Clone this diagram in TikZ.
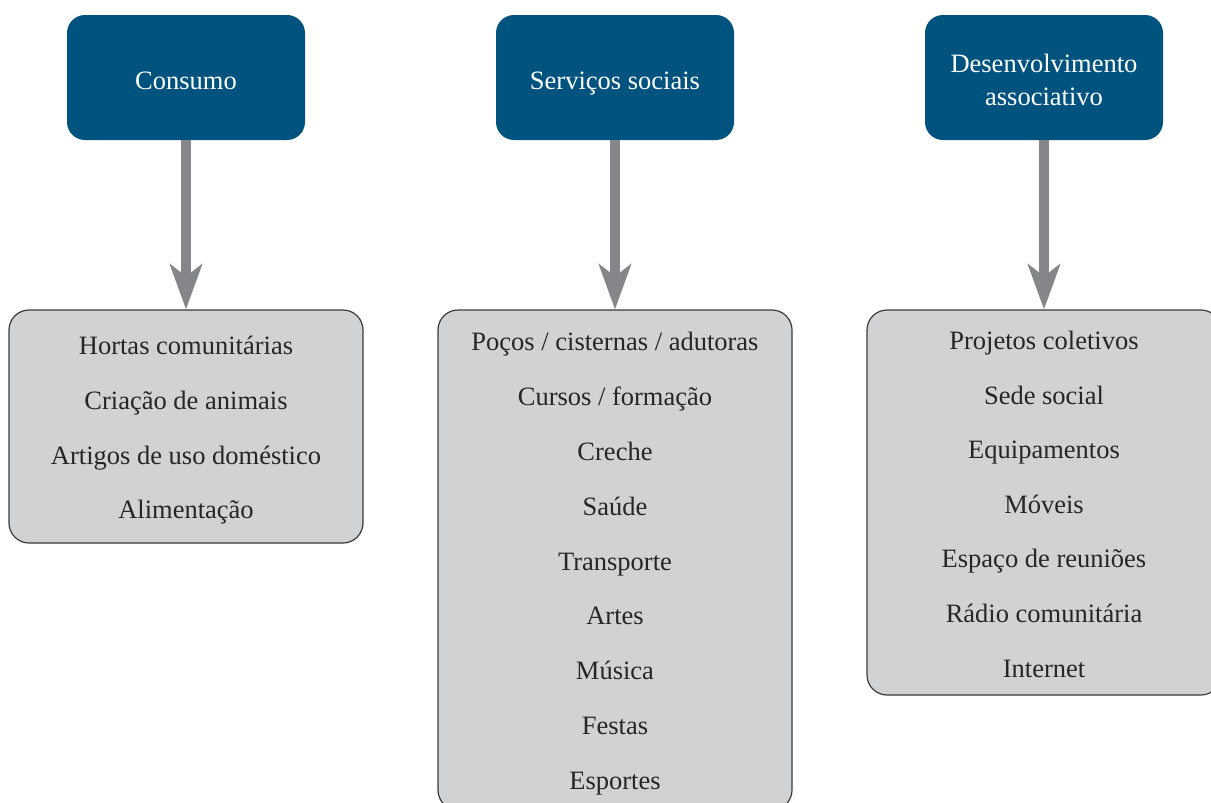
\documentclass[tikz,border=0pt]{standalone}
\usepackage{fontspec}
\setmainfont{Liberation Serif}
\usetikzlibrary{arrows.meta}
\definecolor{topblue}{HTML}{00527F}
\definecolor{boxgray}{HTML}{D1D2D4}
\definecolor{boxline}{HTML}{3A3A3A}
\definecolor{arrgray}{HTML}{85868A}
\newcommand\fs{\rule[-0.5pt]{0pt}{26.5pt}}
\newcommand\fsb{\rule[-0.5pt]{0pt}{22.5pt}}
\newcommand\fsth{\rule{0pt}{29pt}}
\newcommand\fstd{\rule[-6pt]{0pt}{0pt}}
\tikzset{
  topbox/.style={fill=topblue, text=white, rounded corners=18pt, minimum width=238pt, minimum height=125pt, inner sep=0pt, align=center, font=\fontsize{26.5}{33}\selectfont},
  listbox/.style={fill=boxgray, draw=boxline, line width=1.2pt, rounded corners=20pt, minimum width=354pt, inner sep=0pt, align=center, text=black!85, font=\fontsize{26.5}{54.8}\selectfont},
  bigarrow/.style={draw=arrgray, line width=10pt, -{Stealth[length=45pt,width=32pt,inset=12pt]}, fill=arrgray}
}
\begin{document}
\begin{tikzpicture}[x=1pt,y=-1pt]
\useasboundingbox (0,0) rectangle (1211,803);
\clip (0,0) rectangle (1211,803);
\node[topbox] (t1) at (186,77.5) {\fsth\fstd Consumo};
\node[topbox] (t2) at (615,77.5) {\fsth\fstd Serviços sociais};
\node[topbox] (t3) at (1044,77.5) {\fsth Desenvolvimento\\\fstd associativo};
\node[listbox, minimum height=233pt] (b1) at (186,426.5) {\fs Hortas comunitárias\\Criação de animais\\Artigos de uso doméstico\\\fs Alimentação};
\node[listbox, minimum height=500pt] (b2) at (615,560) {\fs Poços / cisternas / adutoras\\Cursos / formação\\Creche\\Saúde\\Transporte\\Artes\\Música\\Festas\\\fs Esportes};
\node[listbox, minimum height=385pt, font=\fontsize{26.5}{54.6}\selectfont] (b3) at (1044,502.5) {\fsb Projetos coletivos\\Sede social\\Equipamentos\\Móveis\\Espaço de reuniões\\Rádio comunitária\\\fsb Internet};
\draw[bigarrow] (t1.south) -- (b1.north);
\draw[bigarrow] (t2.south) -- (b2.north);
\draw[bigarrow] (t3.south) -- (b3.north);
\end{tikzpicture}
\end{document}
